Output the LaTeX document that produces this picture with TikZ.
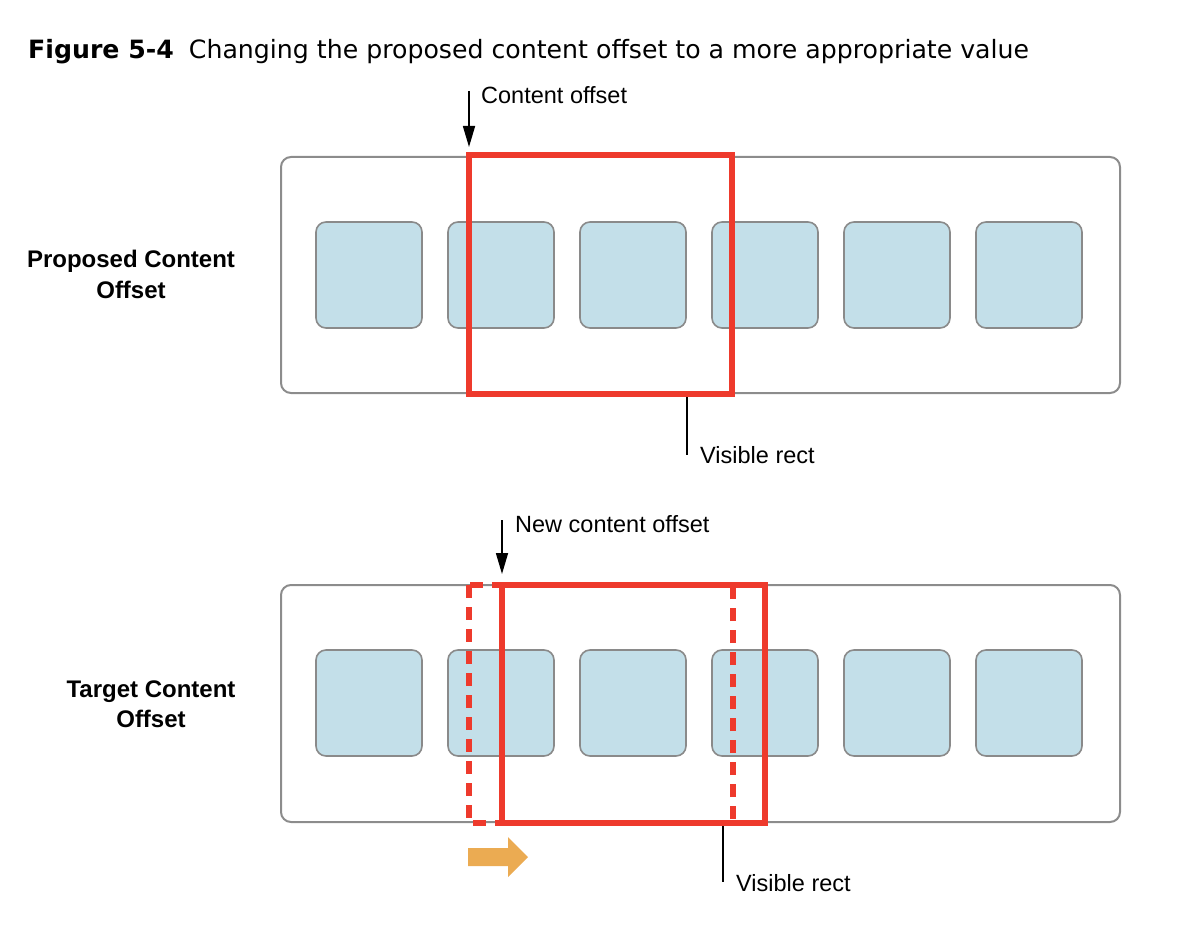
\documentclass[tikz,border=0pt]{standalone}
\usepackage{fontspec}
\setmainfont{Liberation Sans}
\newfontfamily\titlefont{DejaVu Sans}
\usetikzlibrary{arrows.meta}
\definecolor{vred}{HTML}{EE3A2C}
\definecolor{boxgray}{HTML}{8C8C8C}
\definecolor{cellfill}{HTML}{C3DFE9}
\definecolor{cellline}{HTML}{8A8A8A}
\definecolor{shiftorange}{HTML}{EBAB52}
\tikzset{
  container/.style={draw=boxgray, line width=2, rounded corners=10},
  cell/.style={draw=cellline, fill=cellfill, line width=1.6, rounded corners=10,
    minimum width=106, minimum height=106, inner sep=0, outer sep=0},
  visrect/.style={draw=vred, line width=5.5},
  visdashed/.style={visrect, dash pattern=on 13 off 9},
  lbl/.style={font=\fontsize{23.5}{28}\selectfont, inner sep=0, anchor=base west},
  rowlbl/.style={font=\fontsize{24}{28}\selectfont\bfseries, inner sep=0, anchor=base},
  pointer/.style={line width=1.6, -{Triangle[length=21pt, width=12pt]}},
  leader/.style={line width=1.6},
}
\begin{document}
\begin{tikzpicture}[x=1pt, y=-1pt]
\useasboundingbox (0,0) rectangle (1178,944);

% title
\node[inner sep=0, anchor=base west, font=\titlefont\fontsize{25.2}{30}\selectfont] (title) at (28,59)
  {\textbf{Figure 5-4}\hspace{0.6em}Changing the proposed content offset to a more appropriate value};

% ===== top row =====
\node[rowlbl] (plab1) at (131,267) {Proposed Content};
\node[rowlbl] (plab2) at (131,298) {Offset};
\draw[container] (281,157) rectangle (1120,393);
\foreach \i in {0,...,5} {
  \node[cell] (t\i) at ({369+132*\i},275) {};
}
\draw[visrect] (469,155) rectangle (732,394);
\coordinate (topvisL) at (469,155);
\coordinate (coStart) at (469,91);
\draw[pointer] (coStart) -- ([yshift=8]topvisL);
\node[lbl] (colab) at (481,104) {Content offset};
\coordinate (vr1a) at (687,397);
\coordinate (vr1b) at (687,455);
\draw[leader] (vr1a) -- (vr1b);
\node[lbl] (vrlab1) at (700,463) {Visible rect};

% ===== bottom row =====
\node[rowlbl] (tlab1) at (151,697) {Target Content};
\node[rowlbl] (tlab2) at (151,727) {Offset};
\draw[container] (281,585) rectangle (1120,822);
\foreach \i in {0,...,5} {
  \node[cell] (b\i) at ({369+132*\i},703) {};
}
\draw[visdashed] (469,585) rectangle (733,823);
\draw[visrect] (502,585) rectangle (765,823);
\coordinate (botvisL) at (502,585);
\coordinate (ncoStart) at (502,520);
\draw[pointer] (ncoStart) -- ([yshift=11]botvisL);
\node[lbl] (ncolab) at (515,532) {New content offset};
\coordinate (vr2a) at (723,826);
\coordinate (vr2b) at (723,882);
\draw[leader] (vr2a) -- (vr2b);
\node[lbl] (vrlab2) at (736,891) {Visible rect};

% shift arrow
\fill[shiftorange] (468,848) -- (508,848) -- (508,837) -- (528,857) -- (508,877) -- (508,866) -- (468,866) -- cycle;
\end{tikzpicture}
\end{document}
